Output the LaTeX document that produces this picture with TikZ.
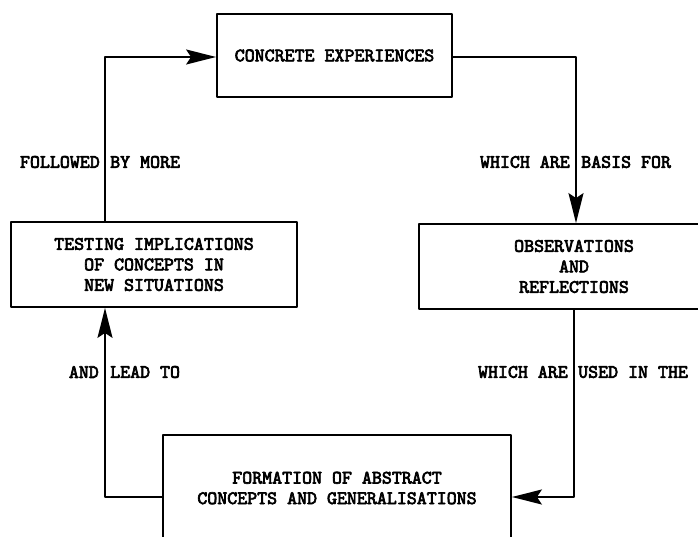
\documentclass[tikz,border=0pt]{standalone}
\usepackage{fontspec}
\setmonofont{lmmono10-regular.otf}[BoldFont=lmmono10-regular.otf,BoldFeatures={FakeBold=3.5}]
\usetikzlibrary{arrows.meta}

\begin{document}
\begin{tikzpicture}[x=1pt,y=-1pt,line cap=round,line join=round,
  >={Stealth[length=30pt,width=15pt,inset=5pt]},
  every node/.style={font=\ttfamily\bfseries\fontsize{19}{20.5}\selectfont,inner sep=0pt},
  box/.style={draw,line width=1.8pt,align=center},
  flow/.style={->,line width=1.8pt}]
  \useasboundingbox (0,0) rectangle (698,537);
  \clip (0,0) rectangle (698,537);
  % boxes
  \node[box,minimum width=235pt,minimum height=83pt] (conc) at (334.5,55.5) {CONCRETE EXPERIENCES};
  \node[box,minimum width=310pt,minimum height=85pt] (obs) at (574,266.5) {OBSERVATIONS\\AND\\REFLECTIONS};
  \node[box,minimum width=348pt,minimum height=106pt] (form) at (337,488) {FORMATION OF ABSTRACT\\CONCEPTS AND GENERALISATIONS};
  \node[box,minimum width=286pt,minimum height=85pt] (test) at (154,264.5) {TESTING IMPLICATIONS\\OF CONCEPTS IN\\NEW SITUATIONS};
  % corners
  \coordinate (tl) at (105,57);
  \coordinate (tr) at (576,57);
  \coordinate (br) at (574,497);
  \coordinate (bl) at (105,497);
  \draw[flow] (tl |- test.north) -- (tl) -- (tl -| conc.west);
  \draw[flow] (tr -| conc.east) -- (tr) -- (tr |- obs.north);
  \draw[flow] (br |- obs.south) -- (br) -- (br -| form.east);
  \draw[flow] (bl -| form.west) -- (bl) -- (bl |- test.south);
  % labels
  \node[anchor=east] (fol) at (100,162) {FOLLOWED};
  \node[anchor=west] (more) at (110,162) {BY MORE};
  \node[anchor=east] (basisl) at (570,162) {WHICH ARE};
  \node[anchor=west] (basisr) at (581,162) {BASIS FOR};
  \node[anchor=east] (usedl) at (568,372) {WHICH ARE};
  \node[anchor=west] (usedr) at (578,372) {USED IN THE};
  \node[anchor=east] (andl) at (99,372) {AND};
  \node[anchor=west] (andr) at (110,372) {LEAD TO};
\end{tikzpicture}
\end{document}
